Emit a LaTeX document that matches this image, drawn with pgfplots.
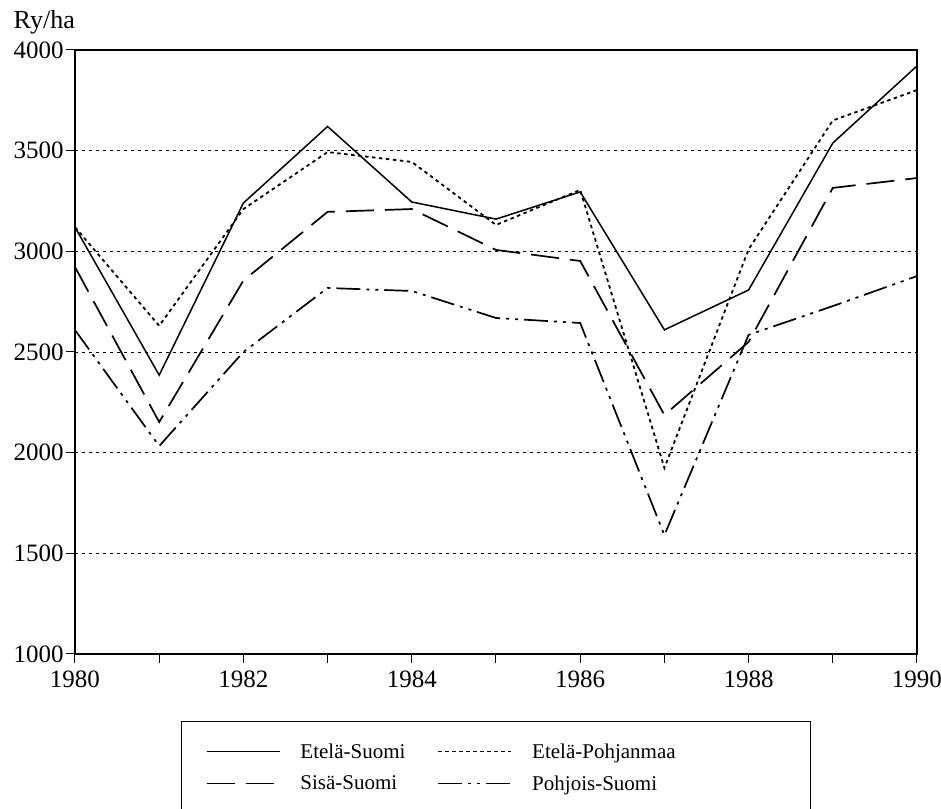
\documentclass[border=0pt]{standalone}
\usepackage{fontspec}
\setmainfont{Liberation Serif}
\usepackage{pgfplots}
\pgfplotsset{compat=1.18}
\usetikzlibrary{calc}
\begin{document}
\begin{tikzpicture}
\begin{axis}[
  name=ax,
  scale only axis, width=842pt, height=604pt,
  xmin=1980, xmax=1990, ymin=1000, ymax=4000,
  clip=false,
  xtick={1980,...,1990},
  xticklabels={1980,,1982,,1984,,1986,,1988,,1990},
  ytick={1000,1500,...,4000},
  /pgf/number format/1000 sep={},
  /pgf/number format/assume math mode=true,
  tick align=outside, tick pos=left, major tick length=9pt,
  tick style={line width=1pt, black},
  ticklabel style={font=\fontsize{25}{25}\selectfont},
  xticklabel style={yshift=-4pt},
  yticklabel style={xshift=1pt},
  axis line style={line width=1.2pt},
  ymajorgrids, grid style={line width=0.8pt, dash pattern=on 3pt off 4pt, black},
  legend columns=2,
  legend image code/.code={\draw[#1] (0pt,0pt) -- (73pt,0pt);},
  legend style={at={(0.5,0)}, anchor=north, yshift=-67pt, draw, line width=1pt,
    font=\fontsize{21}{21}\selectfont, inner xsep=24pt, inner ysep=20pt,
    /tikz/every odd column/.append style={column sep=18pt},
    /tikz/every even column/.append style={column sep=30pt},
    row sep=12pt},
  legend cell align=left,
]
\addplot[black, line width=1.5pt] coordinates {(1980,3120) (1981,2385) (1982,3240) (1983,3620) (1984,3245) (1985,3160) (1986,3295) (1987,2610) (1988,2808) (1989,3538) (1990,3921)};
\addlegendentry{Etelä-Suomi}
\addplot[black, line width=1.8pt, dash pattern=on 3.5pt off 3.5pt] coordinates {(1980,3120) (1981,2630) (1982,3210) (1983,3493) (1984,3444) (1985,3131) (1986,3305) (1987,1924) (1988,3010) (1989,3650) (1990,3801)};
\addlegendentry{\makebox[252pt][l]{Etelä-Pohjanmaa}}
\addplot[black, line width=1.7pt, dash pattern=on 28pt off 11pt] coordinates {(1980,2922) (1981,2152) (1982,2855) (1983,3196) (1984,3210) (1985,3007) (1986,2952) (1987,2187) (1988,2550) (1989,3315) (1990,3364)};
\addlegendentry{Sisä-Suomi}
\addplot[black, line width=1.7pt, dash pattern=on 24pt off 6pt on 3pt off 6pt on 3pt off 6pt] coordinates {(1980,2609) (1981,2033) (1982,2500) (1983,2818) (1984,2803) (1985,2669) (1986,2644) (1987,1590) (1988,2585) (1989,2728) (1990,2877)};
\addlegendentry{Pohjois-Suomi}
\node[anchor=base east, font=\fontsize{26}{26}\selectfont, inner sep=0pt, yshift=21pt] at (rel axis cs:0,1) {Ry/ha};
\coordinate (bl) at (rel axis cs:0,0);
\coordinate (tr) at (rel axis cs:1,1);
\end{axis}
\pgfresetboundingbox
\path ($(bl)+(-75pt,-155pt)$) rectangle ($(tr)+(24pt,50pt)$);
\end{tikzpicture}
\end{document}
